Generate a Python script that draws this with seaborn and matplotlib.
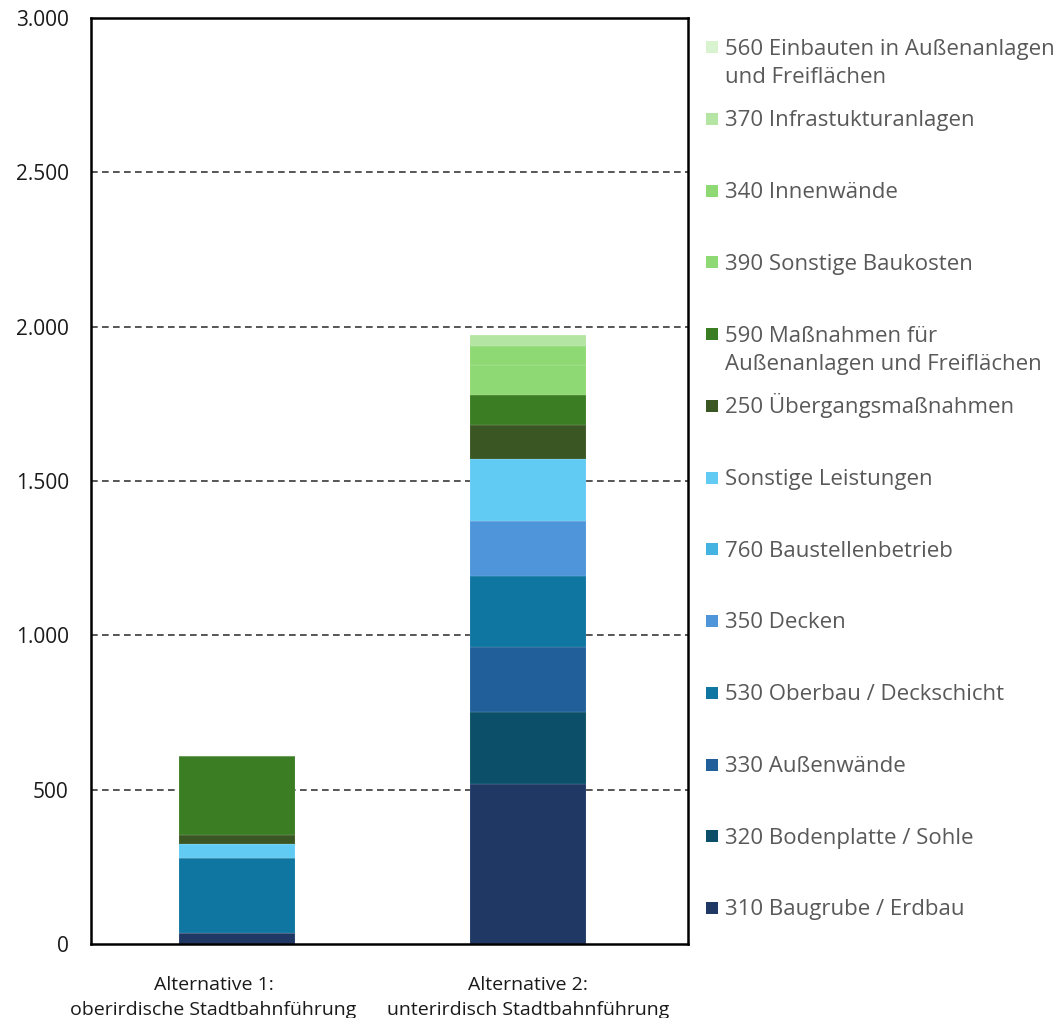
import numpy as np
import pandas as pd
import seaborn as sns
import matplotlib
matplotlib.use("Agg")
import matplotlib.pyplot as plt
from matplotlib.patches import Rectangle
from matplotlib.ticker import FuncFormatter, FixedLocator
from matplotlib.transforms import ScaledTranslation

# ---------------- data ----------------
categories = ["Alternative 1:\noberirdische Stadtbahnführung",
              "Alternative 2:\nunterirdisch Stadtbahnführung"]

# listed top of stack -> bottom of stack (same as legend order)
components = [
    "560 Einbauten in Außenanlagen und Freiflächen",
    "370 Infrastukturanlagen",
    "340 Innenwände",
    "390 Sonstige Baukosten",
    "590 Maßnahmen für Außenanlagen und Freiflächen",
    "250 Übergangsmaßnahmen",
    "Sonstige Leistungen",
    "760 Baustellenbetrieb",
    "350 Decken",
    "530 Oberbau / Deckschicht",
    "330 Außenwände",
    "320 Bodenplatte / Sohle",
    "310 Baugrube / Erdbau",
]
legend_labels = [
    "560 Einbauten in Außenanlagen\nund Freiflächen",
    "370 Infrastukturanlagen",
    "340 Innenwände",
    "390 Sonstige Baukosten",
    "590 Maßnahmen für\nAußenanlagen und Freiflächen",
    "250 Übergangsmaßnahmen",
    "Sonstige Leistungen",
    "760 Baustellenbetrieb",
    "350 Decken",
    "530 Oberbau / Deckschicht",
    "330 Außenwände",
    "320 Bodenplatte / Sohle",
    "310 Baugrube / Erdbau",
]
values_alt1 = [0, 0, 0, 0, 256, 29, 46, 0, 0, 244, 0, 0, 35]
values_alt2 = [0, 34, 61, 100, 97, 109, 200, 0, 178, 230, 212, 234, 517]

colors = ["#d9f2d0", "#b4e5a2", "#8ed973", "#8ed973", "#3b7d23", "#3a5622",
          "#61cbf3", "#44b3e1", "#4e95d9", "#0e76a0", "#215f9a", "#0b5068",
          "#203864"]

yticks = [0, 500, 1000, 1500, 2000, 2500, 3000]

df = pd.DataFrame({
    "Variante": [categories[0]] * len(components) + [categories[1]] * len(components),
    "Kostengruppe": components * 2,
    "Kosten": values_alt1 + values_alt2,
})

# ---------------- figure ----------------
sns.set_theme(style="white")
plt.rcParams["font.family"] = ["Open Sans", "DejaVu Sans"]

W, H = 1053, 1018
fig = plt.figure(figsize=(W / 100, H / 100), dpi=100)
ax = fig.add_axes([91 / W, 1 - 944 / H, (688 - 91) / W, (944 - 18) / H])

sns.histplot(data=df, x="Variante", weights="Kosten", hue="Kostengruppe",
             hue_order=components, palette=colors, multiple="stack",
             discrete=True, shrink=0.4, alpha=1.0, legend=False,
             edgecolor=(1, 1, 1, 0.3), linewidth=0.3, ax=ax)

ax.set_xlim(-0.502, 1.55)
ax.set_ylim(0, 3000)
ax.set_xlabel("")
ax.set_ylabel("")

ax.yaxis.set_major_locator(FixedLocator(yticks))
ax.yaxis.set_major_formatter(FuncFormatter(lambda v, p: f"{int(v):,}".replace(",", ".")))
ax.tick_params(axis="y", length=0, pad=16, labelsize=15, labelcolor="#1a1a1a")
ax.tick_params(axis="x", length=0, pad=23, labelsize=14, labelcolor="#1a1a1a")
for lab in ax.get_xticklabels():
    lab.set_linespacing(1.5)
# first category label is shifted left as in the reference
xl = ax.get_xticklabels()
xl[0].set_transform(xl[0].get_transform() + ScaledTranslation(-0.235, 0, fig.dpi_scale_trans))

for y in yticks[1:-1]:
    ax.axhline(y, color="#3a3a3a", linewidth=1.2, linestyle=(0, (4, 2.6)), zorder=0.5)
ax.grid(False)

for s in ax.spines.values():
    s.set_visible(True)
    s.set_color("black")
    s.set_linewidth(1.8)

# ---------------- legend (manual, marker aligned with first line) ----------------
y0, dy = 47, 71.75
for i, (lab, col) in enumerate(zip(legend_labels, colors)):
    yc = y0 + i * dy
    fig.patches.append(Rectangle((706 / W, 1 - (yc + 6) / H), 12 / W, 12 / H,
                                 transform=fig.transFigure, facecolor=col,
                                 edgecolor="none"))
    for k, line in enumerate(lab.split("\n")):
        yl = yc + k * 28.5
        fig.text(725 / W, 1 - (yl + 7.5) / H, line, fontsize=16,
                 color="#595959", ha="left", va="baseline")

fig.savefig("out.png", dpi=100)
